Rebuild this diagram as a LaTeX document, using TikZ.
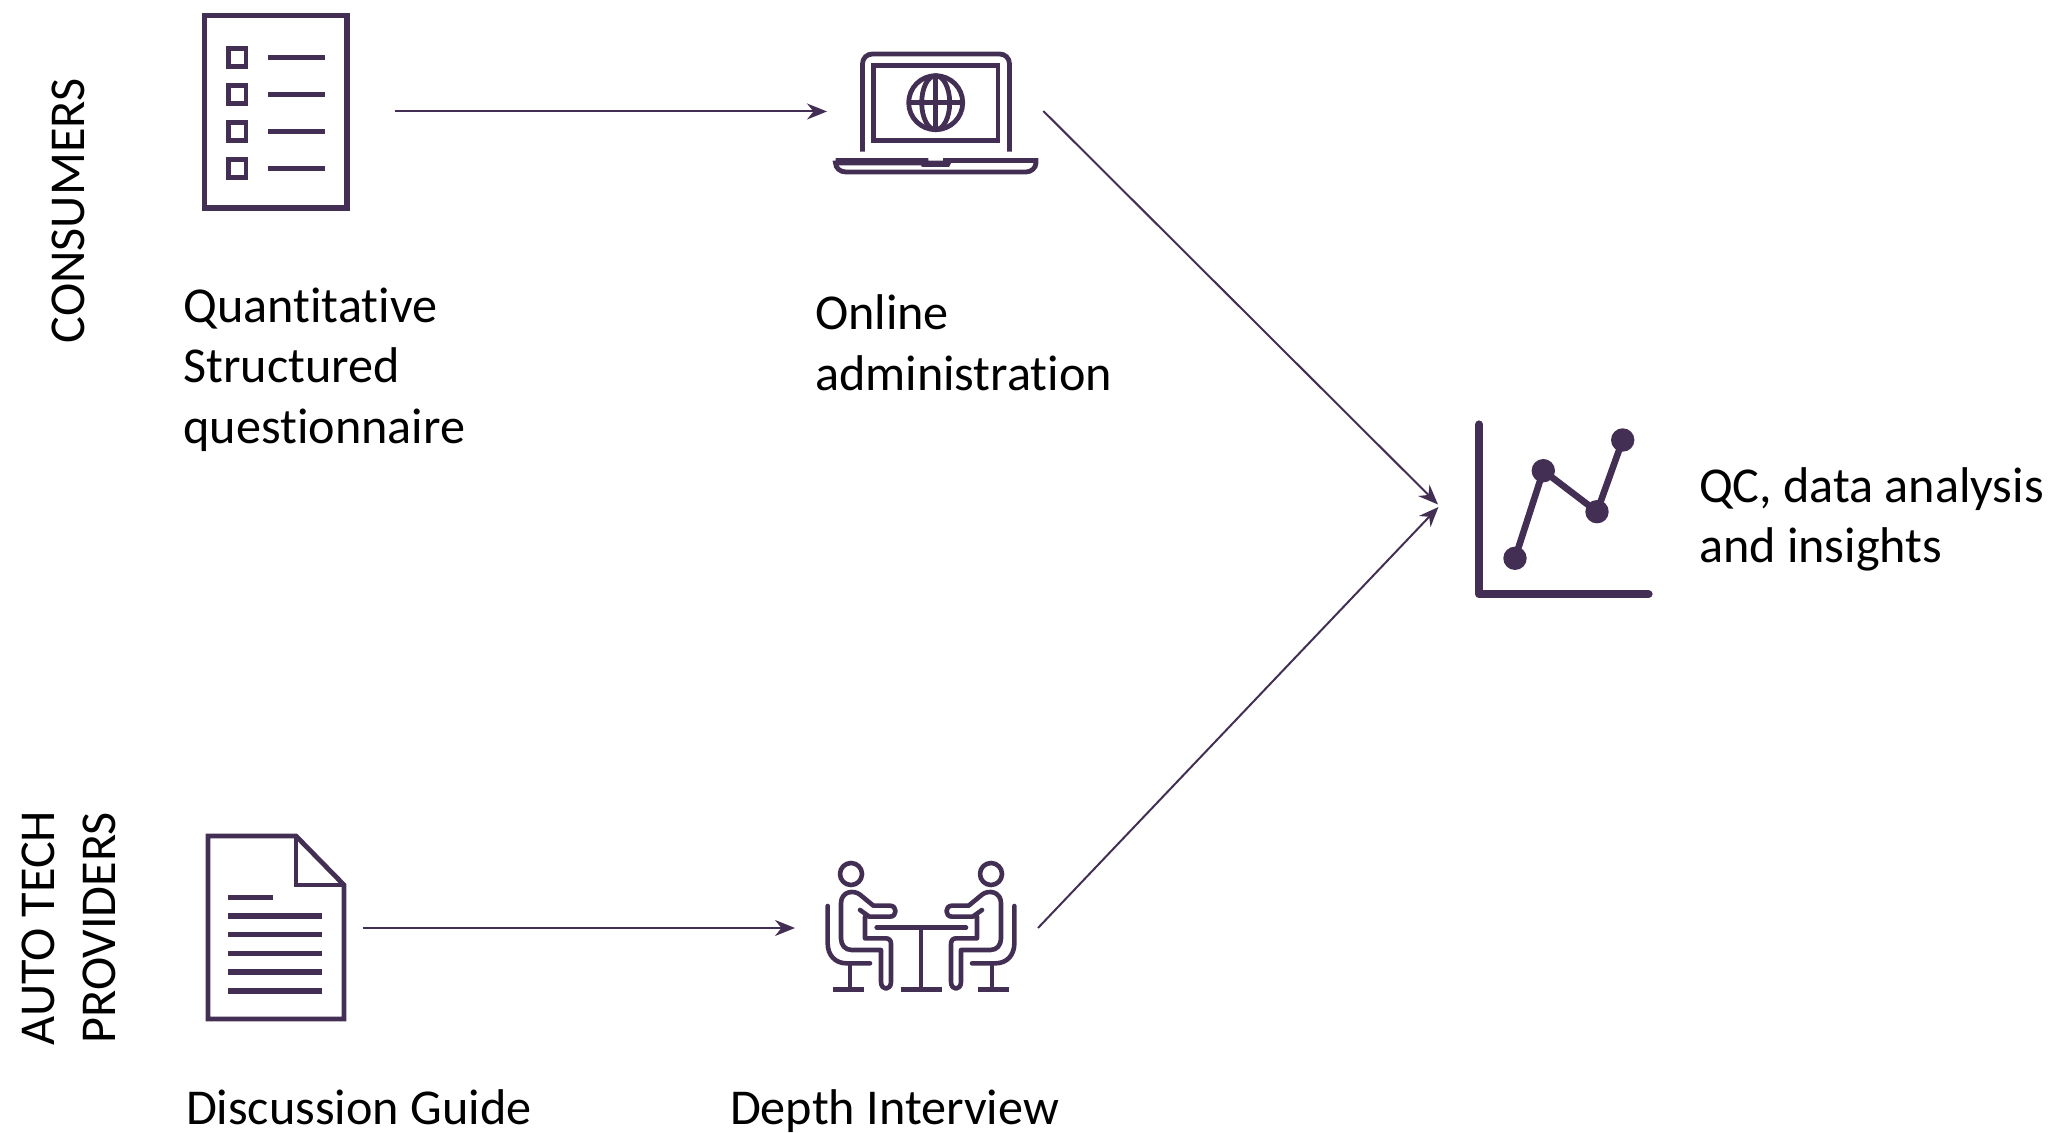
\documentclass[tikz,border=0pt]{standalone}
\usepackage{fontspec}
\setmainfont{Carlito}[Ligatures=NoCommon]
\usetikzlibrary{arrows.meta}
\definecolor{ink}{HTML}{432F54}
\tikzset{
  icon/.style={draw=ink,line width=2.4pt,fill=none},
  iconthin/.style={draw=ink,line width=2.3pt,line cap=round,line join=round,fill=none},
  flow/.style={draw=ink,line width=1pt,-{Stealth[length=10pt,width=8pt]}},
  label/.style={inner sep=0pt,outer sep=0pt,align=left,anchor=north west,text=black,font=\fontsize{25.1}{30.25}\selectfont},
  side/.style={inner sep=0pt,outer sep=0pt,align=center,anchor=center,rotate=90,text=black,font=\fontsize{25.1}{30.25}\selectfont}
}
\begin{document}
\begin{tikzpicture}[x=0.5pt,y=-0.5pt]
\useasboundingbox (0,0) rectangle (2052,1133);
% questionnaire icon
\draw[icon,line width=2.6pt] (204.2,15.5) rectangle (347,208);
\foreach \yy in {57.5,94.5,131.5,168.5}{
  \draw[icon] (228.3,\yy-9) rectangle (246,\yy+9);
  \draw[icon,line width=2.6pt] (268,\yy) -- (325,\yy);
}
% laptop icon
\draw[icon] (862.5,151.7) -- (862.5,64) .. controls (862.5,58) and (867,54) .. (872.5,54) -- (999.5,54) .. controls (1005,54) and (1009.5,58) .. (1009.5,64) -- (1009.5,151.7);
\draw[icon] (873.2,65.2) rectangle (998,140.5);
\draw[icon] (935.7,102.7) circle[radius=27];
\draw[icon] (935.7,102.7) ellipse[x radius=14,y radius=27];
\draw[icon] (935.7,75.7) -- (935.7,129.7) (908.7,102.7) -- (962.7,102.7);
\draw[icon] (835.5,160.5) -- (926,160.5) -- (926,163) (945.5,163) -- (945.5,160.5) -- (1036,160.5) -- (1036,163) .. controls (1036,168) and (1031,172) .. (1026,172) -- (846,172) .. controls (840,172) and (835.5,168) .. (835.5,163) -- cycle;
\fill[ink] (920,163) -- (951,163) -- (949,167) -- (922,167) -- cycle;
% chart icon
\draw[draw=ink,line width=4.1pt,line cap=round,line join=round] (1479.2,424.5) -- (1479.2,594.3) -- (1648.5,594.3);
\draw[draw=ink,line width=3.3pt] (1515,558.3) -- (1543.3,470.7) -- (1597,511.7) -- (1622.7,440);
\foreach \px/\py in {1515/558.3,1543.3/470.7,1597/511.7,1622.7/440}{
  \fill[ink] (\px,\py) circle[radius=11.7];
}
% document icon
\draw[icon,line join=miter] (296,836) -- (208,836) -- (208,1019) -- (344,1019) -- (344,885) -- cycle;
\draw[icon,line join=miter] (296,836) -- (296,885) -- (344,885);
\draw[icon,line width=2.6pt] (228,897.5) -- (273,897.5);
\foreach \yy in {916,934.5,953.5,972,991}{
  \draw[icon,line width=2.6pt] (228,\yy) -- (322,\yy);
}
% interview icon
\begin{scope}[shift={(810,850)},x=0.16667pt,y=-0.16667pt]
  \foreach \mx/\sg in {0/1,666/-1}{
    \begin{scope}[shift={(\mx,0)},xscale=\sg]
      \draw[iconthin] (123,72) circle[radius=33];
      \draw[iconthin] (150,180) -- (178,200) -- (240,200) .. controls (262,200) and (262,167) .. (240,167) -- (190,167) -- (150,134) .. controls (130,118) and (93,125) .. (93,160) -- (93,265) .. controls (93,285) and (105,300) .. (125,300) -- (213,300) -- (213,395) .. controls (213,423) and (243,423) .. (243,395) -- (243,282) .. controls (243,272) and (238,265) .. (228,265) -- (165,265) -- (165,200);
      \draw[iconthin] (53,168) -- (53,280) .. controls (53,315) and (75,340) .. (110,340) -- (180,340);
      \draw[iconthin] (120,340) -- (120,418);
      \draw[iconthin,line cap=butt] (70,418) -- (162,418);
    \end{scope}
  }
  \draw[iconthin] (200,233) -- (468,233);
  \draw[iconthin] (333,233) -- (333,418);
  \draw[iconthin,line cap=butt] (272,418) -- (395,418);
\end{scope}
% connector ends
\coordinate (qEnd) at (395.3,111.5);
\coordinate (oStart) at (827,111.5);
\coordinate (oEnd) at (1043.3,111);
\coordinate (cTopIn) at (1438,504.5);
\coordinate (dEnd) at (362.6,928);
\coordinate (iStart) at (795,928);
\coordinate (iEnd) at (1038,928);
\coordinate (cBotIn) at (1438.5,507);
\draw[flow] (qEnd) -- (oStart);
\draw[flow] (oEnd) -- (cTopIn);
\draw[flow] (dEnd) -- (iStart);
\draw[flow] (iEnd) -- (cBotIn);
% labels
\node[label] (quant) at (183.5,287.5) {Quantitative\\Structured\\questionnaire};
\node[label] (online) at (815,295) {Online\\administration};
\node[label] (qc) at (1699,467.5) {QC, data analysis\\and insights};
\node[label] (guide) at (186,1090) {Discussion Guide};
\node[label] (depth) at (730,1090) {Depth Interview};
\node[side] (cons) at (68,211) {CONSUMERS};
\node[side] (auto) at (69,928) {AUTO TECH\\PROVIDERS};
\end{tikzpicture}
\end{document}
